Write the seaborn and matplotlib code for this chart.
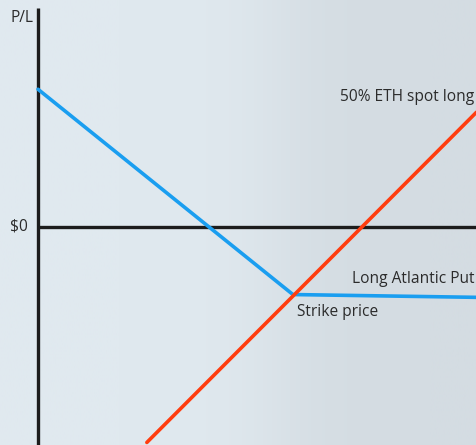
import numpy as np
import pandas as pd
import matplotlib
matplotlib.use('Agg')
import matplotlib.pyplot as plt
import seaborn as sns
from matplotlib.colors import LinearSegmentedColormap

# payoff data (price units, strike at 100)
put_price = [0, 100, 172]
put_pl = [54, -26.5, -27.6]
spot_price = [42.7, 172]
spot_pl = [-84.5, 45]
strike = 100

sns.set_theme(style='white')
plt.rcParams['font.family'] = ['Open Sans', 'DejaVu Sans']

fig = plt.figure(figsize=(4.77, 4.45), dpi=100)
ax = fig.add_axes([0, 0, 1, 1])

xmin, xmax = -14.9, 172.2
ymin, ymax = -85.5, 89.0

# soft background gradient
xs = np.linspace(0, 1, 400)
grad = 0.5 + 0.5 * np.tanh((xs - 0.58) / 0.12)
cmap = LinearSegmentedColormap.from_list('bg', ['#e0e9ef', '#d4dce2'])
ax.imshow(grad[np.newaxis, :], aspect='auto', cmap=cmap,
          extent=[xmin, xmax, ymin, ymax], zorder=0)

# axes lines
ax.vlines(0, ymin, 86, color='#1c1c1c', lw=2.4, zorder=2)
ax.hlines(0, 0, xmax, color='#1c1c1c', lw=2.4, zorder=2)

put_df = pd.DataFrame({'price': put_price, 'pl': put_pl})
spot_df = pd.DataFrame({'price': spot_price, 'pl': spot_pl})
sns.lineplot(data=put_df, x='price', y='pl', ax=ax, color='#1a9ef0', lw=2.6, zorder=3)
sns.lineplot(data=spot_df, x='price', y='pl', ax=ax, color='#ff3d0f', lw=2.6, zorder=4)

ax.set_xlim(xmin, xmax)
ax.set_ylim(ymin, ymax)
ax.axis('off')

tc = '#2b2b2b'
fs = 11.2
ax.text(-1.6, 81.9, 'P/L', ha='right', va='center', fontsize=fs, color=tc)
ax.text(-3.9, 0, '$0', ha='right', va='center', fontsize=fs, color=tc)
ax.text(171.3, 51.0, '50% ETH spot long', ha='right', va='center', fontsize=fs, color=tc)
ax.text(171.3, -20.4, 'Long Atlantic Put', ha='right', va='center', fontsize=fs, color=tc)
ax.text(strike + 1.5, -33.5, 'Strike price', ha='left', va='center', fontsize=fs, color=tc)

fig.savefig('out.png', dpi=100)
